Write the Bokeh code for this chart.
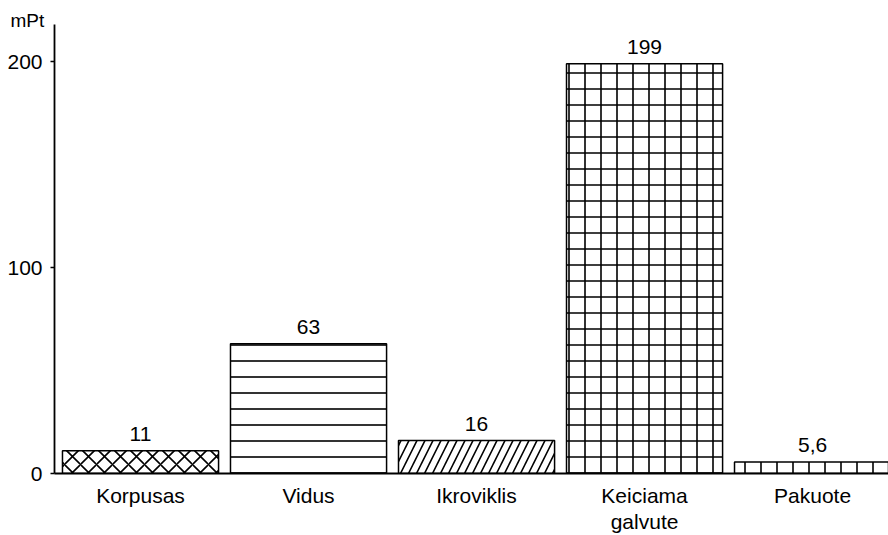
from bokeh.plotting import figure
from bokeh.models import Range1d, FixedTicker, ColumnDataSource, LabelSet, LinearAxis
from bokeh.core.properties import value
from bokeh.embed import file_html
from bokeh.resources import INLINE

categories = ["Korpusas", "Vidus", "Ikroviklis", "Keiciama\ngalvute", "Pakuote"]
values = [11, 63, 16, 199, 5.6]
value_labels = ["11", "63", "16", "199", "5,6"]
patterns = ["x", "-", "/", "+", "|"]
y_ticks = [0, 100, 200]
unit_label = "mPt"

FONT = "Liberation Sans"
FS = "21px"

xs = list(range(len(categories)))
first_lines = {i: c.split("\n")[0] for i, c in zip(xs, categories)}
second_lines = {i: c.split("\n")[1] for i, c in zip(xs, categories) if "\n" in c}

src = ColumnDataSource(dict(x=xs, top=values, lab=value_labels, pat=patterns))

p = figure(width=888, height=535, output_backend="svg", toolbar_location=None,
           x_range=Range1d(-0.512, 4.452), y_range=Range1d(0, 218),
           min_border_left=54, min_border_right=0, min_border_top=24, min_border_bottom=61)
p.outline_line_color = None
p.xgrid.visible = False
p.ygrid.visible = False

p.title.text = unit_label
p.title.align = "left"
p.title.vertical_align = "bottom"
p.title.offset = -44
p.title.standoff = -13
p.title.text_font = FONT
p.title.text_font_size = "19px"
p.title.text_font_style = "normal"
p.title.text_color = "black"

p.vbar(x="x", top="top", bottom=0, width=0.929, source=src,
       fill_color="white", line_color="black", line_width=1.5,
       hatch_pattern="pat", hatch_color="black", hatch_scale=16, hatch_weight=1.6)

labels = LabelSet(x="x", y="top", text="lab", source=src, text_align="center",
                  text_baseline="bottom", y_offset=10, text_font=value(FONT),
                  text_font_size=value(FS), text_color=value("black"))
p.add_layout(labels)

p.yaxis.ticker = FixedTicker(ticks=y_ticks)
p.yaxis.minor_tick_line_color = None
p.yaxis.major_tick_out = 4
p.yaxis.major_tick_in = 0
p.yaxis.major_label_standoff = 8
p.yaxis.axis_line_width = 1.8
p.yaxis.major_tick_line_width = 1.5
p.yaxis.major_label_text_font = FONT
p.yaxis.major_label_text_font_size = FS
p.yaxis.major_label_text_color = "black"

p.xaxis.ticker = FixedTicker(ticks=xs)
p.xaxis.major_label_overrides = first_lines
p.xaxis.major_tick_line_color = None
p.xaxis.minor_tick_line_color = None
p.xaxis.major_tick_out = 0
p.xaxis.major_label_standoff = 10
p.xaxis.axis_line_width = 1.8
p.xaxis.major_label_text_font = FONT
p.xaxis.major_label_text_font_size = FS
p.xaxis.major_label_text_color = "black"

ax2 = LinearAxis(ticker=FixedTicker(ticks=list(second_lines.keys())),
                 major_label_overrides=second_lines,
                 axis_line_color=None, major_tick_line_color=None,
                 minor_tick_line_color=None, major_tick_out=0,
                 major_label_standoff=0, major_label_text_font=FONT,
                 major_label_text_font_size=FS, major_label_text_color="black")
p.add_layout(ax2, "below")

open("out.html", "w").write(file_html(p, INLINE))
